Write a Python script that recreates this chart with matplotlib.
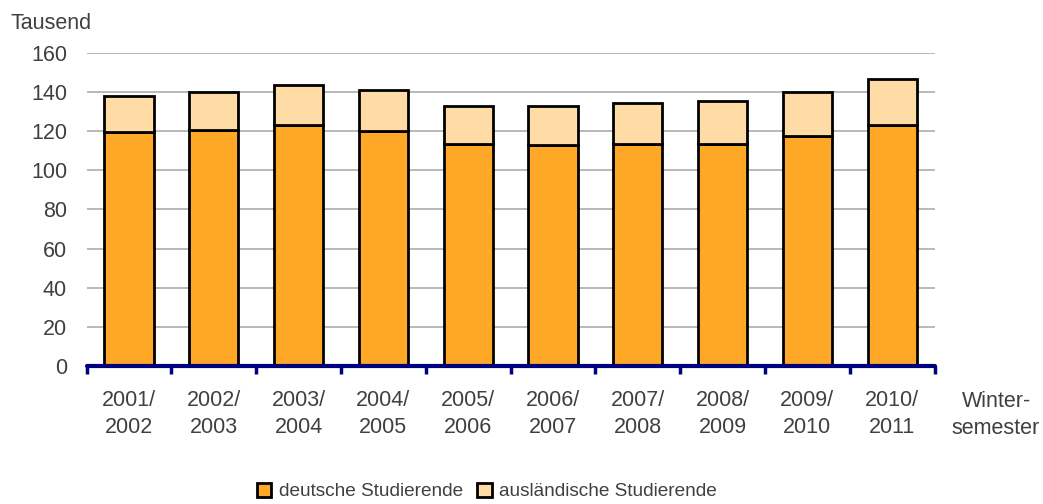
import numpy as np
import matplotlib.pyplot as plt
from matplotlib.patches import Patch

plt.rcParams['font.family'] = ['Liberation Sans', 'DejaVu Sans']

semester = ["2001/\n2002", "2002/\n2003", "2003/\n2004", "2004/\n2005", "2005/\n2006",
            "2006/\n2007", "2007/\n2008", "2008/\n2009", "2009/\n2010", "2010/\n2011"]
deutsche = [119.5, 120.8, 123.2, 120.2, 113.2, 112.7, 113.6, 113.6, 117.6, 123.1]
gesamt = [138.2, 140.2, 143.4, 141.0, 133.0, 132.8, 134.6, 135.2, 139.8, 146.8]
auslaender = [g - d for g, d in zip(gesamt, deutsche)]

c_de = "#FFA726"
c_aus = "#FFDBA6"
txt = "#404040"
fs = 15.5

fig = plt.figure(figsize=(10.43, 5.04), dpi=100)
ax = fig.add_axes([0.083, 0.274, 0.813, 0.621])

x = np.arange(len(semester))
ax.bar(x, deutsche, width=0.58, color=c_de, edgecolor="black", linewidth=2, zorder=3)
ax.bar(x, auslaender, bottom=deutsche, width=0.58, color=c_aus, edgecolor="black",
       linewidth=2, zorder=3)

ax.set_xlim(-0.5, len(semester) - 0.5)
ax.set_ylim(0, 160)
ax.set_yticks(np.arange(0, 161, 20))
ax.yaxis.grid(True, color="#A6A6A6", linewidth=1.1, zorder=0)
ax.tick_params(axis="y", length=0, pad=14, labelsize=fs, labelcolor=txt)

ax.set_xticks(np.arange(-0.5, len(semester)), labels=[])
ax.set_xticks(x, labels=semester, minor=True)
ax.tick_params(axis="x", which="major", length=6, width=2.5, color="#00007F", direction="out")
ax.tick_params(axis="x", which="minor", length=0, pad=17, labelsize=fs, labelcolor=txt)
for lab in ax.get_xticklabels(minor=True):
    lab.set_linespacing(1.38)

for s in ["top", "right", "left"]:
    ax.spines[s].set_visible(False)
ax.spines["bottom"].set_color("#00007F")
ax.spines["bottom"].set_linewidth(3)
ax.spines["bottom"].set_capstyle("round")
ax.spines["bottom"].set_zorder(4)

fig.text(0.010, 0.954, "Tausend", fontsize=fs, color=txt, va="center")
fig.text(0.955, 0.176, "Winter-\nsemester", fontsize=fs, color=txt, ha="center",
         va="center", linespacing=1.38)

handles = [Patch(facecolor=c_de, edgecolor="black", linewidth=2),
           Patch(facecolor=c_aus, edgecolor="black", linewidth=2)]
fig.legend(handles, ["deutsche Studierende", "ausländische Studierende"],
           loc="center", bbox_to_anchor=(0.467, 0.025), ncol=2, frameon=False,
           fontsize=13.7, labelcolor=txt, handlelength=0.75, handleheight=0.75,
           handletextpad=0.4, columnspacing=0.75)

fig.savefig("out.png", dpi=100)
